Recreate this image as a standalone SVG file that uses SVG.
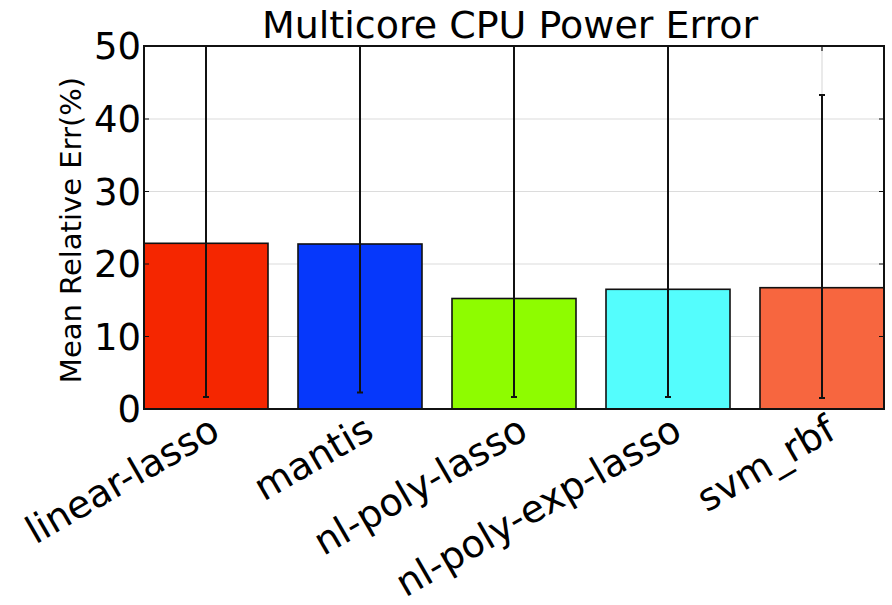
<svg xmlns="http://www.w3.org/2000/svg" width="892" height="605" viewBox="0 0 892 605">
  <style>
    text { font-family: "DejaVu Sans", sans-serif; fill: #000; }
    .grid { stroke: #dcdcdc; stroke-width: 1.2; fill: none; }
    .bar { stroke: #111; stroke-width: 1.6; }
    .err { stroke: #111; stroke-width: 2; fill: none; }
    .tick { stroke: #111; stroke-width: 1.2; fill: none; }
    .ytl { font-size: 37px; text-anchor: end; }
    .xtl { font-size: 38px; text-anchor: end; }
  </style>
  <rect width="892" height="605" fill="#fff"/>

  <!-- grid (y: 10..40, x: bar centres) -->
  <g id="grid">
    <line class="grid" x1="144" y1="119" x2="884" y2="119"/>
    <line class="grid" x1="144" y1="191.5" x2="884" y2="191.5"/>
    <line class="grid" x1="144" y1="264" x2="884" y2="264"/>
    <line class="grid" x1="144" y1="336.5" x2="884" y2="336.5"/>
    <line class="grid" x1="206" y1="46" x2="206" y2="409"/>
    <line class="grid" x1="360" y1="46" x2="360" y2="409"/>
    <line class="grid" x1="514" y1="46" x2="514" y2="409"/>
    <line class="grid" x1="668" y1="46" x2="668" y2="409"/>
    <line class="grid" x1="822" y1="46" x2="822" y2="409"/>
  </g>

  <!-- bars -->
  <g id="bar-linear-lasso"><rect class="bar" x="144" y="243.3" width="124" height="165.7" fill="#f52600"/></g>
  <g id="bar-mantis"><rect class="bar" x="298" y="244" width="124" height="165" fill="#0638fb"/></g>
  <g id="bar-nl-poly-lasso"><rect class="bar" x="452" y="298.5" width="124" height="110.5" fill="#8efc00"/></g>
  <g id="bar-nl-poly-exp-lasso"><rect class="bar" x="606" y="289.3" width="124" height="119.7" fill="#54fdfd"/></g>
  <g id="bar-svm_rbf"><rect class="bar" x="760" y="287.7" width="124" height="121.3" fill="#f7663f"/></g>

  <!-- error bars -->
  <g id="errorbars">
    <path class="err" d="M206 46V397M203 397H209"/>
    <path class="err" d="M360 46V392.5M357 392.5H363"/>
    <path class="err" d="M514 46V397M511 397H517"/>
    <path class="err" d="M668 46V397M665 397H671"/>
    <path class="err" d="M822 95V398M819 398H825M819 95H825"/>
  </g>

  <!-- axes frame and ticks -->
  <g id="axes">
    <rect x="144" y="46" width="740" height="363" fill="none" stroke="#111" stroke-width="2"/>
    <path class="tick" d="M144 119h5M144 191.5h5M144 264h5M144 336.5h5M884 119h-5M884 191.5h-5M884 264h-5M884 336.5h-5M822 46v5"/>
  </g>

  <!-- y tick labels -->
  <g id="yticks">
    <text class="ytl" x="141" y="59">50</text>
    <text class="ytl" x="141" y="132">40</text>
    <text class="ytl" x="141" y="204.5">30</text>
    <text class="ytl" x="141" y="277">20</text>
    <text class="ytl" x="141" y="349.5">10</text>
    <text class="ytl" x="141" y="422">0</text>
  </g>

  <!-- x tick labels -->
  <g id="xticks">
    <text class="xtl" transform="translate(222 437) rotate(-30)">linear-lasso</text>
    <text class="xtl" transform="translate(376 437) rotate(-30)">mantis</text>
    <text class="xtl" transform="translate(530 437) rotate(-30)">nl-poly-lasso</text>
    <text class="xtl" transform="translate(684 437) rotate(-30)">nl-poly-exp-lasso</text>
    <text class="xtl" transform="translate(838 437) rotate(-30)">svm_rbf</text>
  </g>

  <text id="ylabel" font-size="29" text-anchor="middle" transform="translate(81 230) rotate(-90)">Mean Relative Err(%)</text>
  <text id="title" font-size="38" text-anchor="middle" x="510" y="38">Multicore CPU Power Error</text>
</svg>
